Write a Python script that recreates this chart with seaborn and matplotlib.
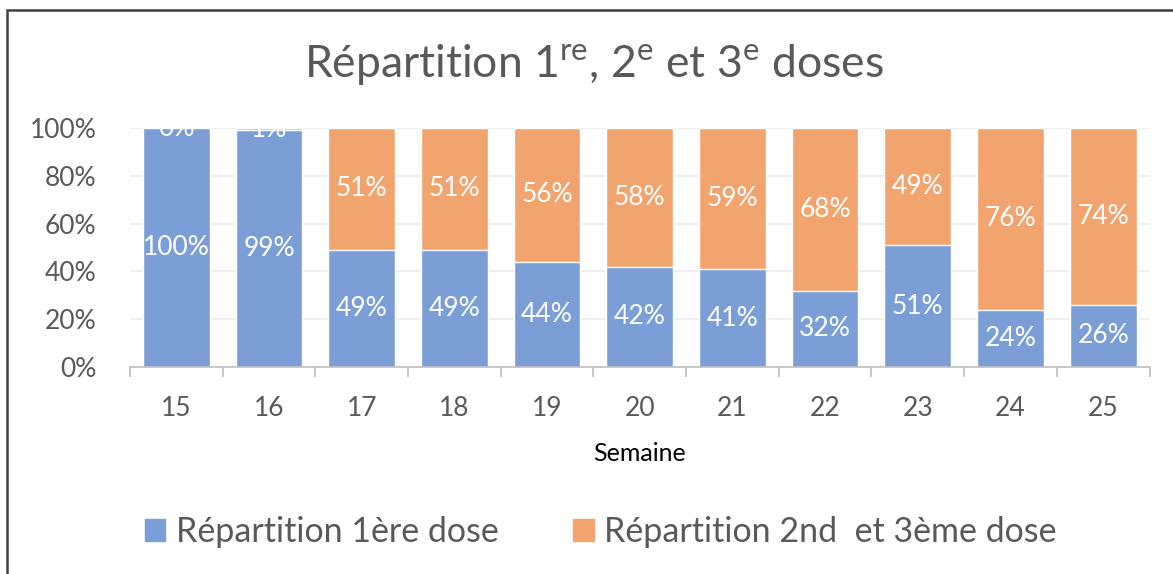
import matplotlib
matplotlib.use("Agg")
import matplotlib.pyplot as plt
import matplotlib.patches as mpatches
import seaborn as sns
import pandas as pd

semaines = ["15", "16", "17", "18", "19", "20", "21", "22", "23", "24", "25"]
premiere_dose = [100, 99, 49, 49, 44, 42, 41, 32, 51, 24, 26]
autres_doses = [0, 1, 51, 51, 56, 58, 59, 68, 49, 76, 74]
serie_labels = ["Répartition 1ère dose", "Répartition 2nd  et 3ème dose"]

blue = "#7C9ED6"
orange = "#F2A46E"
gray_text = "#595959"

sns.set_theme(style="white")
plt.rcParams['font.family'] = ['Lato', 'DejaVu Sans']
plt.rcParams['mathtext.fontset'] = 'custom'
plt.rcParams['mathtext.rm'] = 'Lato'

df = pd.DataFrame({
    "Semaine": semaines,
    "p1": premiere_dose,
    "p2": autres_doses,
})
df["total"] = df["p1"] + df["p2"]

fig = plt.figure(figsize=(11.73, 5.74), dpi=100)
ax = fig.add_axes([0.1108, 0.3606, 0.8692, 0.4164])

sns.barplot(data=df, x="Semaine", y="total", color=orange, saturation=1, width=0.72, ax=ax, zorder=2)
sns.barplot(data=df, x="Semaine", y="p1", color=blue, saturation=1, width=0.72, ax=ax, zorder=3)

ax.set_ylim(0, 100)
ax.set_xlim(-0.5, len(semaines) - 0.5)
yt = [0, 20, 40, 60, 80, 100]
ax.set_yticks(yt)
ax.set_yticklabels([f"{v}%" for v in yt])
for v in yt[1:]:
    ax.axhline(v, color="#EBEBEB", lw=1.2, zorder=1)

for i, (a, b) in enumerate(zip(premiere_dose, autres_doses)):
    ax.text(i, a / 2, f"{a}%", ha="center", va="center", color="white", fontsize=19, zorder=5, clip_on=True)
    ax.text(i, a + b / 2, f"{b}%", ha="center", va="center", color="white", fontsize=19, zorder=5, clip_on=True)

for s in ["top", "right", "left"]:
    ax.spines[s].set_visible(False)
ax.spines["bottom"].set_color("#BFBFBF")
ax.spines["bottom"].set_linewidth(1.2)
ax.spines["bottom"].set_zorder(4)

ax.set_xticks(range(len(semaines)))
ax.set_xticklabels(semaines)
ax.set_xticks([i - 0.5 for i in range(len(semaines) + 1)], minor=True)
ax.tick_params(axis="x", which="major", length=0, pad=21, labelsize=19, labelcolor=gray_text)
ax.tick_params(axis="x", which="minor", length=7, width=1.2, color="#BFBFBF", bottom=True)
ax.tick_params(axis="y", length=0, pad=24, labelsize=19, labelcolor=gray_text)
ax.set_ylabel("")
ax.set_xlabel("Semaine", fontsize=18, color="black", labelpad=15)

fig.text(0.506, 0.887, r"Répartition 1$^{\mathrm{re}}$, 2$^{\mathrm{e}}$ et 3$^{\mathrm{e}}$ doses",
         ha="center", va="center", fontsize=32, color=gray_text)

handles = [mpatches.Patch(color=blue), mpatches.Patch(color=orange)]
fig.legend(handles, serie_labels, loc="center", bbox_to_anchor=(0.512, 0.073), ncol=2,
           frameon=False, fontsize=24.5, labelcolor=gray_text, handlelength=0.6, handleheight=0.6,
           handletextpad=0.3, columnspacing=2.2)

border = mpatches.Rectangle((7 / 1173, -0.2), 1.2, 1.2 - 10 / 574, transform=fig.transFigure,
                            fill=False, edgecolor="#404040", lw=1.8, clip_on=False)
fig.patches.append(border)

fig.savefig("out.png", dpi=100)
